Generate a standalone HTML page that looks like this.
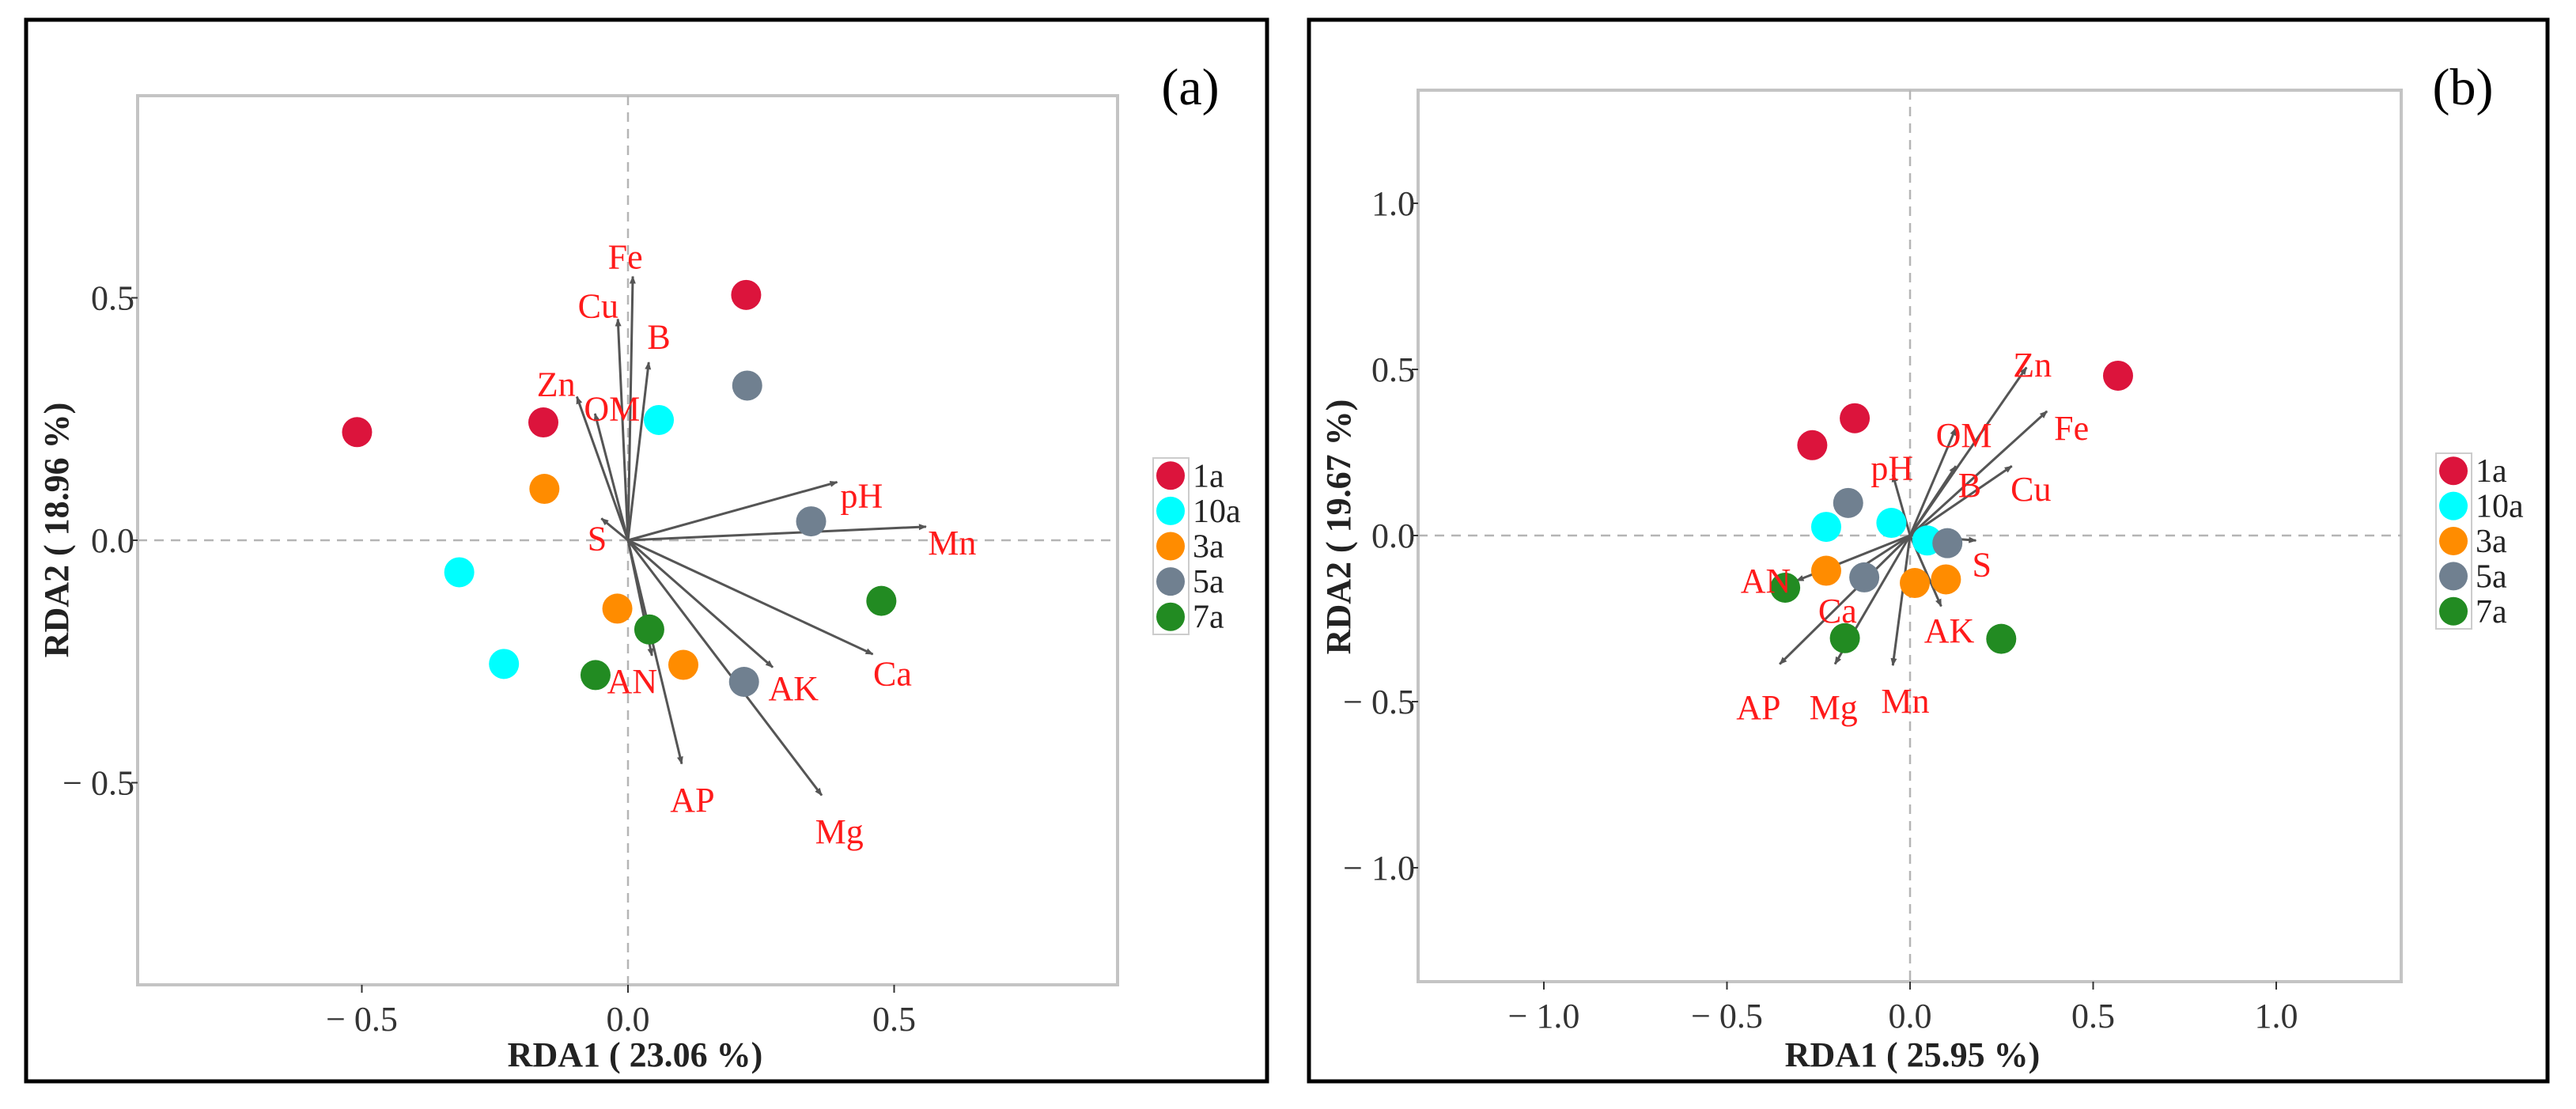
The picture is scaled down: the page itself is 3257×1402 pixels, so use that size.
<!DOCTYPE html>
<html><head><meta charset="utf-8"><style>
html,body{margin:0;padding:0;background:#fff}
svg{display:block}
text{font-family:"Liberation Serif",serif}
</style></head><body>
<svg id="chart" width="3257" height="1402" viewBox="0 0 3257 1402" xmlns="http://www.w3.org/2000/svg">
<defs><marker id="ah" markerWidth="12" markerHeight="12" refX="9" refY="5" orient="auto" markerUnits="userSpaceOnUse"><path d="M0,1 L10,5 L0,9 z" fill="#555"/></marker></defs>
</svg>
<script>
const groups = ["1a","10a","3a","5a","7a"];
const groupColors = ["#dc143c","#00ffff","#ff8c00","#708090","#228b22"];
// Panel (a)
const aTicks = [-0.5, 0.0, 0.5];
const aTickLabels = ["\u2212 0.5","0.0","0.5"];
const aSampleGroup = ["1a","1a","1a","10a","10a","10a","3a","3a","3a","5a","5a","5a","7a","7a","7a"];
const aSampleX = [-0.509,-0.159,0.222,-0.317,-0.233,0.058,-0.157,-0.020,0.104,0.224,0.344,0.218,0.476,0.040,-0.061];
const aSampleY = [0.223,0.243,0.506,-0.066,-0.255,0.248,0.106,-0.141,-0.257,0.319,0.039,-0.292,-0.125,-0.184,-0.278];
const aVars = ["Fe","Cu","B","Zn","OM","S","pH","Mn","Ca","AK","Mg","AP","AN"];
const aVarX = [0.009,-0.019,0.039,-0.096,-0.062,-0.050,0.393,0.560,0.460,0.272,0.364,0.101,0.045];
const aVarY = [0.544,0.456,0.367,0.296,0.261,0.045,0.120,0.028,-0.235,-0.262,-0.526,-0.461,-0.238];
const aLabX = [-0.005,-0.056,0.058,-0.135,-0.030,-0.058,0.439,0.609,0.497,0.311,0.397,0.121,0.008];
const aLabY = [0.585,0.484,0.420,0.322,0.272,0.004,0.092,-0.005,-0.275,-0.305,-0.600,-0.535,-0.290];
// Panel (b)
const bTicks = [-1.0,-0.5,0.0,0.5,1.0];
const bTickLabels = ["\u2212 1.0","\u2212 0.5","0.0","0.5","1.0"];
const bSampleGroup = ["1a","1a","1a","10a","10a","10a","3a","3a","3a","5a","5a","5a","7a","7a","7a"];
const bSampleX = [-0.267,-0.151,0.568,-0.229,-0.051,0.047,-0.229,0.013,0.098,-0.169,0.102,-0.125,-0.341,-0.178,0.249];
const bSampleY = [0.272,0.353,0.481,0.026,0.038,-0.015,-0.106,-0.143,-0.132,0.098,-0.023,-0.126,-0.157,-0.309,-0.311];
const bVars = ["Zn","Fe","OM","B","Cu","pH","S","AN","Ca","AK","AP","Mg","Mn"];
const bVarX = [0.318,0.374,0.125,0.125,0.278,-0.047,0.180,-0.310,-0.140,0.085,-0.356,-0.205,-0.047];
const bVarY = [0.506,0.374,0.323,0.209,0.209,0.183,-0.015,-0.136,-0.100,-0.213,-0.387,-0.387,-0.391];
const bLabX = [0.334,0.441,0.147,0.163,0.330,-0.049,0.196,-0.394,-0.198,0.107,-0.414,-0.209,-0.013];
const bLabY = [0.514,0.324,0.302,0.152,0.141,0.204,-0.087,-0.136,-0.226,-0.286,-0.517,-0.517,-0.498];

const svg = document.getElementById('chart');
const NS = 'http://www.w3.org/2000/svg';
function mk(tag, attrs, parent){const e=document.createElementNS(NS,tag);for(const k in attrs)e.setAttribute(k,attrs[k]);(parent||svg).appendChild(e);return e;}

function panel(cfg, ticks, tickLabels, sg, sx, sy, vars, vx, vy, lx, ly){
  const g = mk('g',{});
  
  
  const X = v => cfg.x0 + v*cfg.kx;
  const Y = v => cfg.y0 - v*cfg.ky;
  const fr = mk('rect',{x:cfg.fx,y:cfg.fy,width:cfg.fw,height:cfg.fh,fill:'none',stroke:'#000','stroke-width':5},g);
   
  const pa = mk('rect',{x:cfg.px,y:cfg.py,width:cfg.pw,height:cfg.ph,fill:'#fff',stroke:'#c4c4c4','stroke-width':4},g);
   
  const zx = mk('line',{x1:cfg.px,x2:cfg.px+cfg.pw,y1:Y(0),y2:Y(0),stroke:'#b5b5b5','stroke-width':2.5,'stroke-dasharray':'12,9'},g);
   
  const zy = mk('line',{y1:cfg.py,y2:cfg.py+cfg.ph,x1:X(0),x2:X(0),stroke:'#b5b5b5','stroke-width':2.5,'stroke-dasharray':'12,9'},g);
   
  ticks.forEach((t,i)=>{
    const tx = mk('line',{x1:X(t),x2:X(t),y1:cfg.py+cfg.ph,y2:cfg.py+cfg.ph+10,stroke:'#333','stroke-width':2},g);
     
    const lb = mk('text',{x:X(t),y:cfg.py+cfg.ph+58,'text-anchor':'middle','font-size':44,fill:'#333'},g);
    lb.textContent = tickLabels[i];
     
    const ty = mk('line',{x1:cfg.px-8,x2:cfg.px,y1:Y(t),y2:Y(t),stroke:'#333','stroke-width':2},g);
     
    const ly2 = mk('text',{x:cfg.px-4,y:Y(t)+15,'text-anchor':'end','font-size':44,fill:'#333'},g);
    ly2.textContent = tickLabels[i];
     
  });
  vars.forEach((v,i)=>{
    const a = mk('line',{x1:X(0),y1:Y(0),x2:X(vx[i]),y2:Y(vy[i]),stroke:'#555','stroke-width':3,'marker-end':'url(#ah)'},g);
     
  });
  sx.forEach((v,i)=>{
    const c = mk('circle',{cx:X(v),cy:Y(sy[i]),r:19,fill:groupColors[groups.indexOf(sg[i])]},g);
     
  });
  vars.forEach((v,i)=>{
    const t = mk('text',{x:X(lx[i]),y:Y(ly[i])+15,'text-anchor':'middle','font-size':44,fill:'#ff1a1a'},g);
    t.textContent = v;
     
  });
  const xl = mk('text',{x:cfg.xlx,y:cfg.xly,'text-anchor':'middle','font-size':44,'font-weight':'bold',fill:'#222'},g);
  xl.textContent = cfg.xlabel;
   
  const yl = mk('text',{x:0,y:0,'text-anchor':'middle','font-size':44,'font-weight':'bold',fill:'#222',transform:`translate(${cfg.ylx},${cfg.yly}) rotate(-90)`},g);
  yl.textContent = cfg.ylabel;
   
  const tt = mk('text',{x:cfg.tx,y:cfg.ty,'text-anchor':'middle','font-size':66,fill:'#000'},g);
  tt.textContent = cfg.title;
   
  const lg = mk('g',{},g);
   
  mk('rect',{x:cfg.lgx,y:cfg.lgy,width:45,height:cfg.lgh,fill:'#fff',stroke:'#ccc','stroke-width':2},lg);
  groups.forEach((gname,i)=>{
    const yy = cfg.lgy + cfg.lgh*(i+0.5)/groups.length;
    const c = mk('circle',{cx:cfg.lgx+22,cy:yy,r:18,fill:groupColors[i]},lg);
     
    const t = mk('text',{x:cfg.lgx+50,y:yy+14,'font-size':42,fill:'#222'},lg);
    t.textContent = gname;
     
  });
}

panel({id:'a',fx:33,fy:25,fw:1569,fh:1342,px:174,py:121,pw:1239,ph:1124,x0:794,kx:673,y0:683,ky:613,
  xlabel:'RDA1 ( 23.06 %)',xlx:803,xly:1348,ylabel:'RDA2 ( 18.96 %)',ylx:86,yly:670,title:'(a)',tx:1505,ty:132,
  lgx:1458,lgy:579,lgh:223}, aTicks, aTickLabels, aSampleGroup, aSampleX, aSampleY, aVars, aVarX, aVarY, aLabX, aLabY);
panel({id:'b',fx:1655,fy:25,fw:1566,fh:1342,px:1793,py:114,pw:1243,ph:1127,x0:2415,kx:463,y0:677,ky:420,
  xlabel:'RDA1 ( 25.95 %)',xlx:2418,xly:1348,ylabel:'RDA2 ( 19.67 %)',ylx:1707,yly:666,title:'(b)',tx:3114,ty:132,
  lgx:3080,lgy:573,lgh:222}, bTicks, bTickLabels, bSampleGroup, bSampleX, bSampleY, bVars, bVarX, bVarY, bLabX, bLabY);
</script>
</body></html>
